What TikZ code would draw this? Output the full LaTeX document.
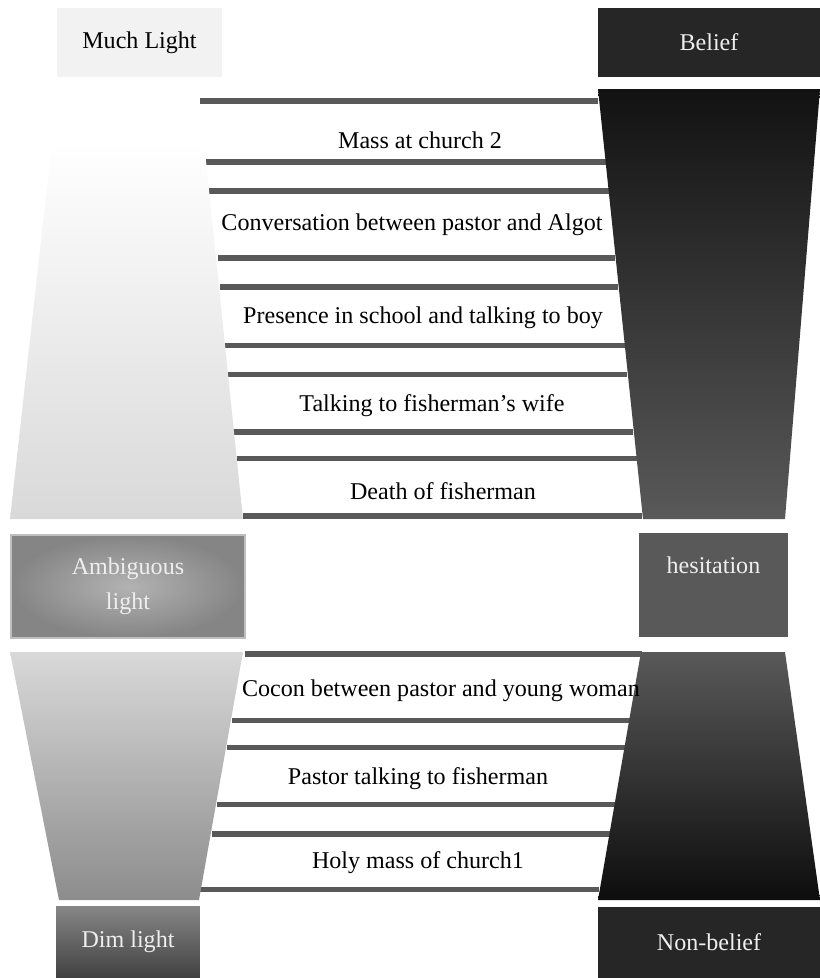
\documentclass[tikz,border=0pt]{standalone}
\usepackage{fontspec}
\setmainfont{Liberation Serif}
\usepackage{tikz}
\usetikzlibrary{shapes,arrows}
\definecolor{barcol}{HTML}{595959}
\definecolor{lightbox}{HTML}{F2F2F2}
\definecolor{darkbox}{HTML}{262626}
\definecolor{paletxt}{HTML}{EEEEEE}
\newcommand{\evtfont}{\fontsize{13.7pt}{20pt}\selectfont}
\tikzstyle{bar} = [draw=barcol, line width=0.11cm]
\tikzstyle{box} = [draw=none, inner sep=0pt, text centered, font=\evtfont]
\tikzstyle{evt} = [inner sep=0pt, font=\evtfont]

\begin{document}
\begin{tikzpicture}[x=0.02cm,y=-0.02cm]
	\useasboundingbox (0,0) rectangle (820,978);
	% event bars
	\draw[bar] (200,101) -- (598,101);
	\draw[bar] (206,162) -- (606,162);
	\draw[bar] (209,191) -- (609,191);
	\draw[bar] (218,258) -- (615,258);
	\draw[bar] (220,287) -- (618,287);
	\draw[bar] (225,345.5) -- (625,345.5);
	\draw[bar] (228,374.5) -- (627,374.5);
	\draw[bar] (233,432) -- (633,432);
	\draw[bar] (237,458.5) -- (637,458.5);
	\draw[bar] (243,516) -- (642,516);
	\draw[bar] (245,654) -- (642,654);
	\draw[bar] (232,720.5) -- (633,720.5);
	\draw[bar] (227,747.5) -- (628,747.5);
	\draw[bar] (217,804.5) -- (620,804.5);
	\draw[bar] (212,834) -- (612,834);
	\draw[bar] (200,889.5) -- (599,889.5);
	% light and belief columns
	\shade[top color=white, bottom color=black!15] (52,142) -- (204,142) -- (243,519) -- (10,519) -- cycle;
	\shade[top color=black!15, bottom color=black!45] (10,652) -- (243,652) -- (199,900) -- (59,900) -- cycle;
	\shade[top color=black!93, bottom color=barcol] (598,89) -- (820,89) -- (785,519) -- (643,519) -- cycle;
	\shade[top color=barcol, bottom color=black!95] (641,652) -- (785,652) -- (820,900) -- (598,900) -- cycle;
	% boxes
	\node (much) [box, fill=lightbox, minimum width=3.3cm, minimum height=1.38cm] at (139.5,42.5) {Much Light};
	\node (belief) [box, fill=darkbox, text=paletxt, minimum width=4.44cm, minimum height=1.38cm] at (709,42.5) {Belief};
	\node (ambig) [box, draw=black!25, line width=0.04cm, inner color=black!30, outer color=black!48, text=paletxt, align=center, minimum width=4.68cm, minimum height=2.06cm] at (128,586.5) {Ambiguous\\light};
	\node (hes) [box, fill=barcol, text=paletxt, anchor=north, minimum width=2.98cm, text height=0.8cm, text depth=1.28cm] at (713.5,533) {hesitation};
	\node (dim) [box, top color=black!47, bottom color=black!75, text=paletxt, minimum width=2.88cm, minimum height=1.44cm] at (128,942) {Dim light};
	\node (nonb) [box, fill=darkbox, text=paletxt, minimum width=4.44cm, minimum height=1.42cm] at (709,942.5) {Non-belief};
	% events
	\node (e8) [evt] at (420,140) {Mass at church 2};
	\node (e7) [evt] at (412,225) {Conversation between pastor and Algot};
	\node (e6) [evt] at (423,318) {Presence in school and talking to boy};
	\node (e5) [evt] at (432,406) {Talking to fisherman’s wife};
	\node (e4) [evt] at (443,491) {Death of fisherman};
	\node (e3) [evt] at (441,691) {Cocon between pastor and young woman};
	\node (e2) [evt] at (418,779) {Pastor talking to fisherman};
	\node (e1) [evt] at (418,863) {Holy mass of church1};
\end{tikzpicture}
\end{document}
